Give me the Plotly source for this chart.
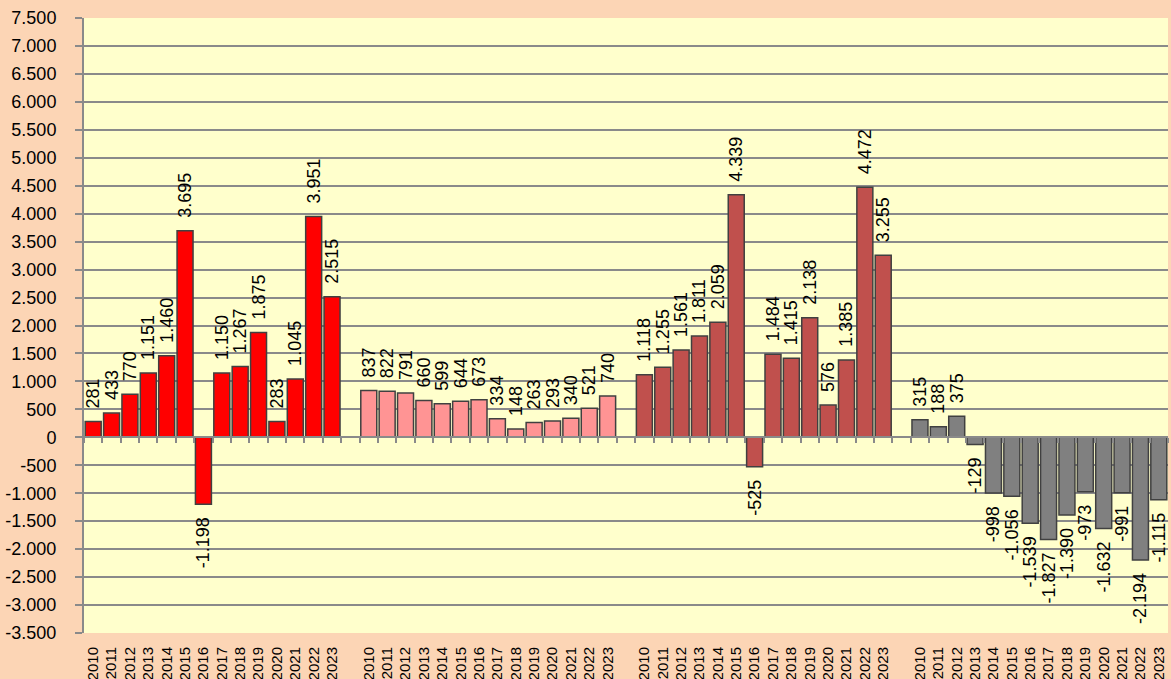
import plotly.graph_objects as go

years = [str(y) for y in range(2010, 2024)]

series_red = [281, 433, 770, 1151, 1460, 3695, -1198, 1150, 1267, 1875, 283, 1045, 3951, 2515]
series_pink = [837, 822, 791, 660, 599, 644, 673, 334, 148, 263, 293, 340, 521, 740]
series_darkred = [1118, 1255, 1561, 1811, 2059, 4339, -525, 1484, 1415, 2138, 576, 1385, 4472, 3255]
series_gray = [315, 188, 375, -129, -998, -1056, -1539, -1827, -1390, -973, -1632, -991, -2194, -1115]

groups = [series_red, series_pink, series_darkred, series_gray]
colors = ["#FF0000", "#FF9494", "#C0504D", "#808080"]

y_ticks = list(range(-3500, 7501, 500))


def fmt(v):
    s = f"{abs(v):,}".replace(",", ".")
    return ("-" + s) if v < 0 else s


NB = "\u00a0\u00a0"
FONT = "Liberation Sans, Arial, sans-serif"

fig = go.Figure()
slot = len(years) + 1
all_x = []
all_lbl = []
for g, (vals, col) in enumerate(zip(groups, colors)):
    xs = [g * slot + i for i in range(len(years))]
    all_x += xs
    all_lbl += years
    texts = [(NB + fmt(v)) if v >= 0 else (fmt(v) + NB) for v in vals]
    fig.add_trace(go.Bar(
        x=xs, y=vals, width=0.87,
        marker=dict(color=col, line=dict(color="#404040", width=1.5)),
        text=texts, textposition="outside", textangle=-90,
        textfont=dict(family=FONT, size=18, color="black"),
        constraintext="none", cliponaxis=False,
        showlegend=False, hoverinfo="y",
    ))

n_slots = 4 * slot - 1
# helper trace for the category axis drawn at zero
fig.add_trace(go.Scatter(x=[0], y=[0], xaxis="x2", mode="markers",
                         marker=dict(opacity=0), showlegend=False, hoverinfo="skip"))

fig.update_layout(
    width=1171, height=679,
    margin=dict(l=84, r=3, t=18, b=46),
    paper_bgcolor="#FCD5B5",
    plot_bgcolor="#FFFFCC",
    barmode="overlay",
    font=dict(family=FONT, color="black"),
    xaxis=dict(
        range=[-0.5, n_slots - 0.5],
        tickvals=all_x, ticktext=all_lbl, tickangle=-90,
        tickfont=dict(family=FONT, size=15, color="black"),
        ticks="outside", ticklen=7, tickcolor="rgba(0,0,0,0)",
        showgrid=False, zeroline=False, showline=False, automargin=False,
    ),
    xaxis2=dict(
        overlaying="x", anchor="free", position=3500 / 11000, side="bottom",
        range=[-0.5, n_slots - 0.5],
        tickvals=[k - 0.5 for k in range(n_slots + 1)],
        showticklabels=False, ticks="outside", ticklen=5, tickwidth=1.5,
        tickcolor="#8a8a8a", showline=True, linecolor="#8a8a8a", linewidth=2,
        showgrid=False, zeroline=False, automargin=False,
    ),
    yaxis=dict(
        range=[-3500, 7500],
        tickvals=y_ticks, ticktext=[fmt(v) for v in y_ticks],
        tickfont=dict(family=FONT, size=18, color="black"),
        ticks="outside", ticklen=7, tickwidth=1.5, tickcolor="#8a8a8a",
        ticklabelstandoff=15,
        showgrid=True, gridcolor="#8a8a8a", gridwidth=1.5,
        showline=True, linecolor="#8a8a8a", linewidth=2,
        zeroline=False, automargin=False,
    ),
)

fig.write_html("out.html", config={"displayModeBar": False},
               post_script="document.body.style.margin='0';")
